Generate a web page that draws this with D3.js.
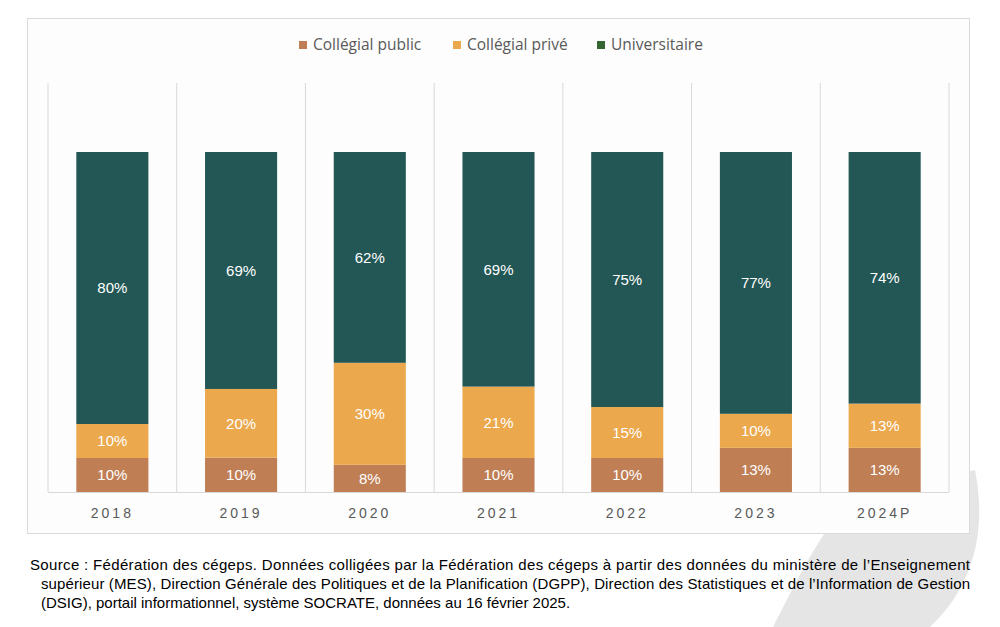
<!DOCTYPE html>
<html>
<head>
<meta charset="UTF-8">
<title>Répartition</title>
<script src="https://d3js.org/d3.v7.min.js"></script>
<style>
  body { margin: 0; background: #ffffff; }
  svg { display: block; }
</style>
</head>
<body>
<div id="chart"></div>
<script>
// data
var years = ["2018", "2019", "2020", "2021", "2022", "2023", "2024P"];
var collegialPublic = [10, 10, 8, 10, 10, 13, 13];
var collegialPrive = [10, 20, 30, 21, 15, 10, 13];
var universitaire = [80, 69, 62, 69, 75, 77, 74];
var seriesNames = ["Collégial public", "Collégial privé", "Universitaire"];
var sourceLines = [
  "Source : Fédération des cégeps. Données colligées par la Fédération des cégeps à partir des données du ministère de l’Enseignement",
  "supérieur (MES), Direction Générale des Politiques et de la Planification (DGPP), Direction des Statistiques et de l’Information de Gestion",
  "(DSIG), portail informationnel, système SOCRATE, données au 16 février 2025."
];

var W = 1000, H = 627;
var barColors = ["#c07e55", "#eba84c", "#235755"];
var legendColors = ["#c07e55", "#eba84c", "#336633"];

var svg = d3.select("#chart").append("svg")
  .attr("width", W).attr("height", H);

// grey swoosh in the background
svg.append("path")
  .attr("d", "M773,627 C795,585 815,540 850,500 L975,470 C985,520 980,580 930,627 Z")
  .attr("fill", "#e5e5e5");

// chart frame
svg.append("rect")
  .attr("x", 27.5).attr("y", 18.5)
  .attr("width", 942).attr("height", 515)
  .attr("fill", "#fdfdfd")
  .attr("stroke", "#d9d9d9");

var rows = years.map(function(y, i) {
  return { year: y, pub: collegialPublic[i], priv: collegialPrive[i], univ: universitaire[i] };
});

var x = d3.scaleBand()
  .domain(years)
  .range([48, 949])
  .paddingInner(0.44)
  .paddingOuter(0.22);

var y = d3.scaleLinear()
  .domain([0, 1])
  .range([492, 152]);

// vertical separators between categories
var step = x.step();
var seps = d3.range(years.length + 1).map(function(i) { return 48 + i * step; });
svg.append("g").selectAll("line")
  .data(seps)
  .enter().append("line")
  .attr("x1", function(d) { return d; })
  .attr("x2", function(d) { return d; })
  .attr("y1", 83).attr("y2", 492)
  .attr("stroke", "#d9d9d9")
  .attr("stroke-width", 1);

// 100% stacked
var keys = ["pub", "priv", "univ"];
var stack = d3.stack().keys(keys).offset(d3.stackOffsetExpand);
var layers = stack(rows);

var g = svg.append("g");
layers.forEach(function(layer, li) {
  g.append("g").selectAll("rect")
    .data(layer)
    .enter().append("rect")
    .attr("x", function(d) { return x(d.data.year); })
    .attr("width", x.bandwidth())
    .attr("y", function(d) { return y(d[1]); })
    .attr("height", function(d) { return y(d[0]) - y(d[1]); })
    .attr("fill", barColors[li]);

  g.append("g").selectAll("text")
    .data(layer)
    .enter().append("text")
    .attr("x", function(d) { return x(d.data.year) + x.bandwidth() / 2; })
    .attr("y", function(d) { return (y(d[0]) + y(d[1])) / 2; })
    .attr("dy", "0.36em")
    .attr("text-anchor", "middle")
    .attr("fill", "#ffffff")
    .attr("font-family", "Liberation Sans, Arial, sans-serif")
    .attr("font-size", 15)
    .text(function(d) { return d.data[keys[li]] + "%"; });
});

// x axis
var xAxis = svg.append("g")
  .attr("transform", "translate(0,492)")
  .call(d3.axisBottom(x).tickSize(0).tickPadding(16));
xAxis.select(".domain").attr("stroke", "#d9d9d9").attr("d", "M48,0.5H949");
xAxis.selectAll("text")
  .attr("fill", "#595959")
  .attr("font-family", "Liberation Sans, Arial, sans-serif")
  .attr("font-size", 14)
  .attr("letter-spacing", "3px");

// legend
var legendX = [299, 453, 597];
var legend = svg.append("g");
seriesNames.forEach(function(name, i) {
  legend.append("rect")
    .attr("x", legendX[i]).attr("y", 41)
    .attr("width", 8).attr("height", 8)
    .attr("fill", legendColors[i]);
  legend.append("text")
    .attr("x", legendX[i] + 14).attr("y", 45)
    .attr("dy", "0.35em")
    .attr("fill", "#595959")
    .attr("font-family", "Open Sans, sans-serif")
    .attr("font-size", 15.5)
    .text(name);
});

// source note
var srcX = [30, 41, 41];
var srcW = [940, 929, null];
sourceLines.forEach(function(line, i) {
  var t = svg.append("text")
    .attr("x", srcX[i]).attr("y", 570 + i * 19)
    .attr("fill", "#000000")
    .attr("font-family", "Liberation Sans, Arial, sans-serif")
    .attr("font-size", 15)
    .text(line);
  if (srcW[i]) t.attr("textLength", srcW[i]).attr("lengthAdjust", "spacing");
});
</script>
</body>
</html>
